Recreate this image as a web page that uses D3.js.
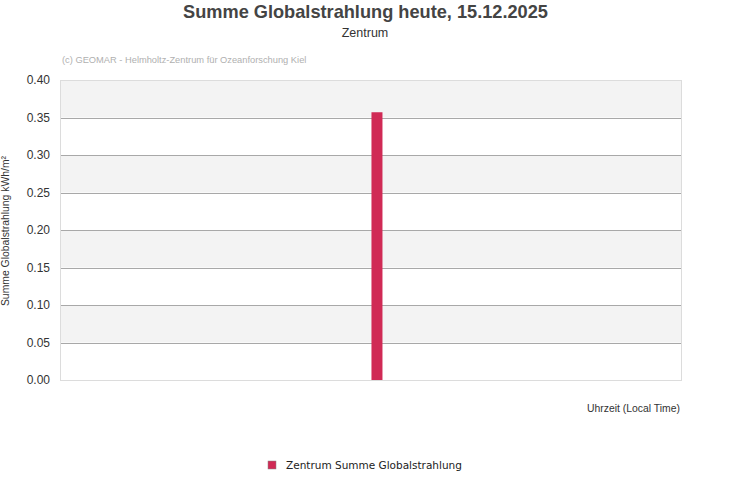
<!DOCTYPE html>
<html>
<head>
<meta charset="utf-8">
<script src="https://cdn.jsdelivr.net/npm/d3@7"></script>
<style>
  body { margin: 0; background: #fff; }
  svg { font-family: "Liberation Sans", Arial, sans-serif; }
</style>
</head>
<body>
<div id="chart"></div>
<script>
// data
const times = [12.25];          // hour of day
const values = [0.357];         // kWh/m²
const yTicks = [0, 0.05, 0.1, 0.15, 0.2, 0.25, 0.3, 0.35, 0.4];
const seriesName = "Zentrum Summe Globalstrahlung";

const width = 731, height = 500;
const margin = { top: 80, right: 50, bottom: 120, left: 60 };
const plotW = 681 - margin.left;
const plotH = 380 - margin.top;
const barColor = "#d02a55";

const svg = d3.select("#chart").append("svg")
  .attr("width", width)
  .attr("height", height);

const x = d3.scaleLinear().domain([0, 24]).range([margin.left, margin.left + plotW]);
const y = d3.scaleLinear().domain([0, 0.4]).range([margin.top + plotH, margin.top]);

// alternating bands
const bands = d3.range(0, yTicks.length - 1).filter(i => i % 2 === 1);
svg.append("g").selectAll("rect").data(bands).join("rect")
  .attr("x", margin.left)
  .attr("width", plotW)
  .attr("y", i => y(yTicks[i + 1]))
  .attr("height", i => y(yTicks[i]) - y(yTicks[i + 1]))
  .attr("fill", "#f3f3f3");

// grid lines
svg.append("g").selectAll("line").data(yTicks.slice(1, -1)).join("line")
  .attr("x1", margin.left).attr("x2", margin.left + plotW)
  .attr("y1", d => Math.round(y(d)) + 0.5).attr("y2", d => Math.round(y(d)) + 0.5)
  .attr("stroke", "#a8a8a8").attr("stroke-width", 1);

// plot border
svg.append("rect")
  .attr("x", margin.left + 0.5).attr("y", margin.top + 0.5)
  .attr("width", plotW).attr("height", plotH)
  .attr("fill", "none").attr("stroke", "#dcdcdc");

// bars
svg.append("g").selectAll("rect").data(times).join("rect")
  .attr("x", d => x(d) - 5.5)
  .attr("width", 11)
  .attr("y", (d, i) => y(values[i]))
  .attr("height", (d, i) => y(0) - y(values[i]))
  .attr("fill", barColor);

// y axis labels
const yAxis = d3.axisLeft(y).tickValues(yTicks).tickFormat(d3.format(".2f")).tickSize(0).tickPadding(10);
const ya = svg.append("g").attr("transform", `translate(${margin.left},0)`).call(yAxis);
ya.select(".domain").remove();
ya.selectAll("text").attr("font-size", 12).attr("fill", "#333")
  .attr("font-family", "Liberation Sans, Arial, sans-serif");

// titles
svg.append("text").attr("x", 365.5).attr("y", 18).attr("text-anchor", "middle")
  .attr("font-size", 18.2).attr("font-weight", "bold").attr("fill", "#444")
  .text("Summe Globalstrahlung heute, 15.12.2025");
svg.append("text").attr("x", 365).attr("y", 37).attr("text-anchor", "middle")
  .attr("font-size", 12.5).attr("fill", "#333").text("Zentrum");
svg.append("text").attr("x", 62).attr("y", 63)
  .attr("font-size", 9.3).attr("fill", "#b0b0b0")
  .text("(c) GEOMAR - Helmholtz-Zentrum für Ozeanforschung Kiel");

// axis titles
svg.append("text").attr("x", 680).attr("y", 412).attr("text-anchor", "end")
  .attr("font-size", 10.4).attr("fill", "#333").text("Uhrzeit (Local Time)");
svg.append("text").attr("transform", "translate(9,231) rotate(-90)")
  .attr("text-anchor", "middle").attr("font-size", 10.4).attr("fill", "#333")
  .text("Summe Globalstrahlung kWh/m²");

// legend
const lg = svg.append("g").attr("transform", "translate(268,461)");
lg.append("rect").attr("width", 8).attr("height", 8).attr("fill", barColor)
  .attr("stroke", "#888").attr("stroke-width", 0.5);
lg.append("text").attr("x", 18).attr("y", 8)
  .attr("font-family", "DejaVu Sans, Verdana, sans-serif")
  .attr("font-size", 10.5).attr("fill", "#222").text(seriesName);
</script>
</body>
</html>
